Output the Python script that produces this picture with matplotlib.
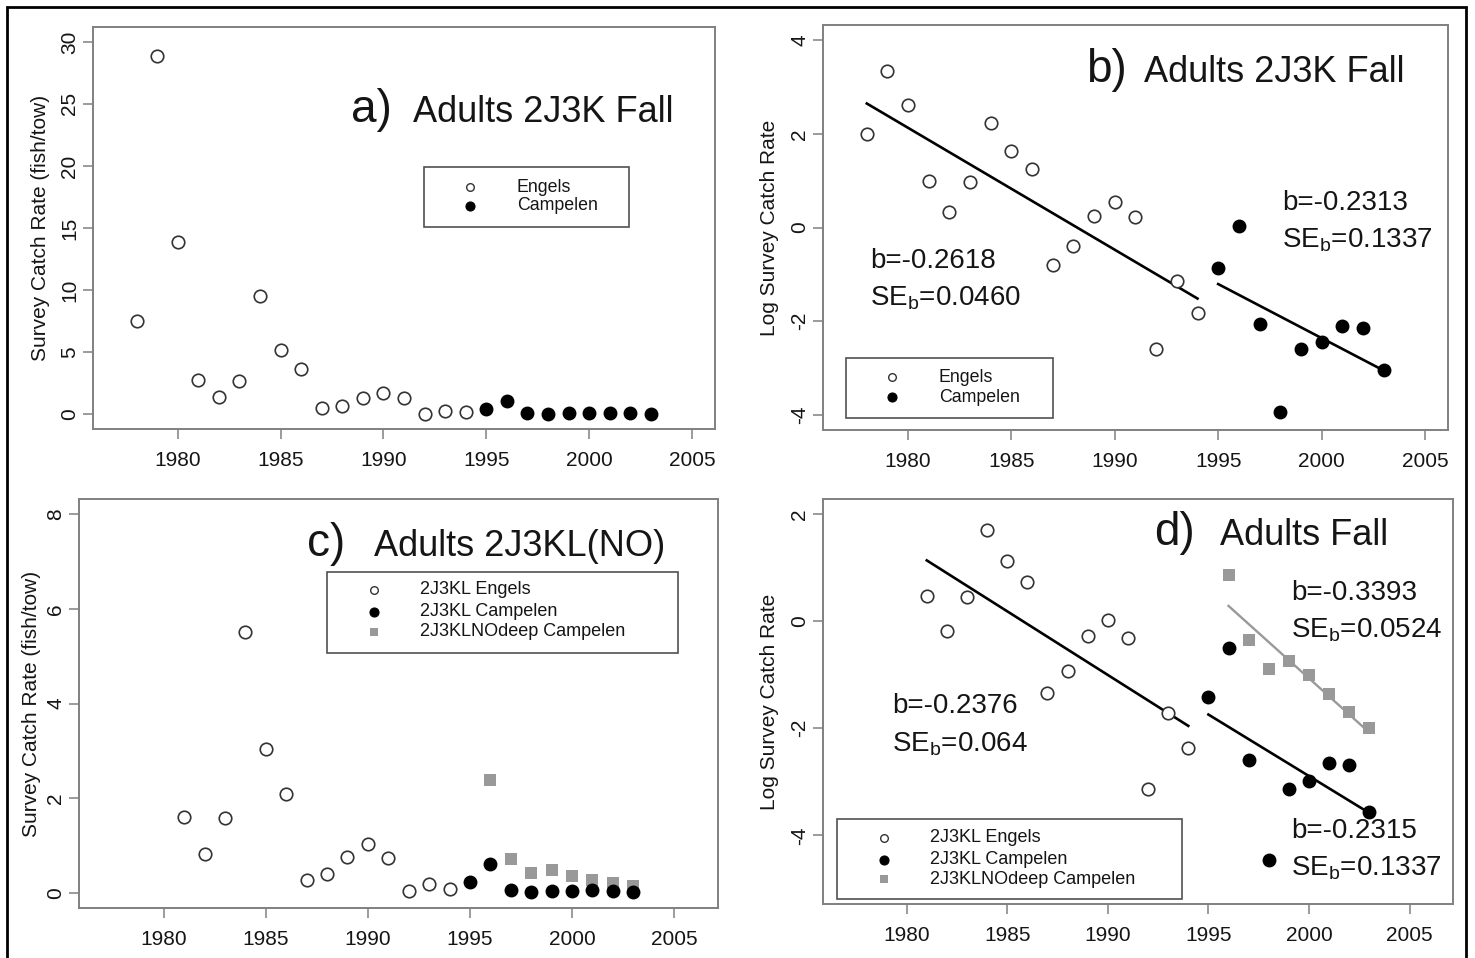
import numpy as np
import matplotlib
matplotlib.use("Agg")
import matplotlib.pyplot as plt
from matplotlib.patches import Rectangle

plt.rcParams["font.family"] = ["Liberation Sans", "DejaVu Sans"]
plt.rcParams["mathtext.fontset"] = "custom"
plt.rcParams["mathtext.rm"] = "Liberation Sans"
plt.rcParams["mathtext.it"] = "Liberation Sans:italic"
plt.rcParams["axes.unicode_minus"] = False

# --- data ---
yrs_engels_ab = [1978, 1979, 1980, 1981, 1982, 1983, 1984, 1985, 1986,
                 1987, 1988, 1989, 1990, 1991, 1992, 1993, 1994]
yrs_engels_cd = [1981, 1982, 1983, 1984, 1985, 1986, 1987, 1988, 1989,
                 1990, 1991, 1992, 1993, 1994]
yrs_campelen = [1995, 1996, 1997, 1998, 1999, 2000, 2001, 2002, 2003]
yrs_deep = [1996, 1997, 1998, 1999, 2000, 2001, 2002, 2003]

# a) catch rate 2J3K fall
engels_a = [7.5, 28.9, 13.9, 2.74, 1.4, 2.7, 9.5, 5.2, 3.6,
            0.46, 0.67, 1.3, 1.72, 1.26, 0.03, 0.27, 0.13]
campelen_a = [0.4, 1.05, 0.1, 0.02, 0.05, 0.08, 0.1, 0.1, 0.04]

# b) log catch rate 2J3K fall
engels_b = [1.99, 3.34, 2.62, 0.99, 0.33, 0.97, 2.23, 1.63, 1.25,
            -0.80, -0.39, 0.25, 0.55, 0.22, -2.60, -1.15, -1.83]
campelen_b = [-0.86, 0.03, -2.06, -3.93, -2.60, -2.45, -2.10, -2.15, -3.03]

# c) catch rate 2J3KL(NO)
engels_c = [1.60, 0.82, 1.58, 5.52, 3.04, 2.09, 0.27, 0.39, 0.75,
            1.04, 0.73, 0.04, 0.18, 0.09]
campelen_c = [0.23, 0.60, 0.07, 0.01, 0.03, 0.04, 0.06, 0.04, 0.01]
deep_c = [2.39, 0.71, 0.41, 0.48, 0.36, 0.27, 0.20, 0.15]

# d) log catch rate fall
engels_d = [0.47, -0.19, 0.46, 1.71, 1.12, 0.73, -1.35, -0.93, -0.27,
            0.02, -0.32, -3.13, -1.71, -2.36]
campelen_d = [-1.41, -0.50, -2.60, -4.45, -3.13, -2.98, -2.64, -2.69, -3.56]
deep_d = [0.87, -0.36, -0.90, -0.74, -1.00, -1.36, -1.70, -1.99]

xticks = [1980, 1985, 1990, 1995, 2000, 2005]

W, H = 1475, 958
fig = plt.figure(figsize=(W / 100, H / 100), dpi=100)
fig.patch.set_facecolor("white")

TXT = "#151515"
GREY = "#999999"


def add_ax(box):
    l, t, r, b = box
    ax = fig.add_axes([l / W, 1 - b / H, (r - l) / W, (b - t) / H])
    ax.box_px = box
    return ax


def frac(ax, x, y):
    # figure pixel -> axes fraction
    l, t, r, b = ax.box_px
    return (x - l) / (r - l), (b - y) / (b - t)


def style(ax, xlim, ylim, yticks, ylabel, label_x):
    ax.set_xlim(*xlim)
    ax.set_ylim(*ylim)
    ax.set_xticks(xticks)
    ax.set_yticks(yticks)
    for sp in ax.spines.values():
        sp.set_color("#808080")
        sp.set_linewidth(1.4)
    ax.tick_params(direction="out", length=7, width=1.1, color="#808080",
                   labelsize=15, labelcolor=TXT)
    ax.tick_params(axis="x", pad=9)
    ax.tick_params(axis="y", pad=3)
    plt.setp(ax.get_yticklabels(), rotation=90, va="center")
    ax.set_ylabel(ylabel, fontsize=15, color=TXT)
    ax.yaxis.set_label_coords(frac(ax, label_x, 0)[0], 0.5)


def title(ax, letter, text, x_letter, x_text, y):
    fx, fy = frac(ax, x_letter, y)
    ax.text(fx, fy, letter, transform=ax.transAxes, fontsize=33,
            va="baseline", ha="left", color=TXT)
    fx, fy = frac(ax, x_text, y)
    ax.text(fx, fy, text, transform=ax.transAxes, fontsize=26,
            va="baseline", ha="left", color=TXT)


def note(ax, s, x, y):
    fx, fy = frac(ax, x, y)
    ax.text(fx, fy, s, transform=ax.transAxes, fontsize=20,
            va="baseline", ha="left", color=TXT, zorder=7)


def r_legend(ax, box, mx, tx, rows, fs):
    l, t, r, b = box
    x0, y1 = frac(ax, l, t)
    x1, y0 = frac(ax, r, b)
    ax.add_patch(Rectangle((x0, y0), x1 - x0, y1 - y0, transform=ax.transAxes,
                           facecolor="white", edgecolor="#505050", lw=1.2,
                           zorder=5, clip_on=False))
    for y, kw, lab in rows:
        fx, fy = frac(ax, mx, y)
        ax.plot([fx], [fy], transform=ax.transAxes, linestyle="none",
                clip_on=False, zorder=6, **kw)
        fx, fy = frac(ax, tx, y)
        ax.text(fx, fy, lab, transform=ax.transAxes, fontsize=fs,
                va="center", ha="left", color=TXT, zorder=6)


def fit_line(ax, x, y, color="black", lw=1.9):
    k, c = np.polyfit(x, y, 1)
    xs = np.array([x[0], x[-1]])
    ax.plot(xs, k * xs + c, color=color, lw=lw, zorder=2)


open_kw = dict(marker="o", ms=9, mfc="white", mec="#333333", mew=1.2,
               linestyle="none", zorder=3)
fill_kw = dict(marker="o", ms=9, mfc="black", mec="black", mew=1,
               linestyle="none", zorder=4)
sq_kw = dict(marker="s", ms=8, mfc=GREY, mec=GREY, mew=0,
             linestyle="none", zorder=3)

leg_open = dict(marker="o", ms=5.5, mfc="white", mec="#333333", mew=1)
leg_fill = dict(marker="o", ms=6.5, mfc="black", mec="black", mew=0.8)
leg_sq = dict(marker="s", ms=5.5, mfc=GREY, mec=GREY, mew=0)

# ---------- a) ----------
ax = add_ax((93, 27, 715, 429))
ax.plot(yrs_engels_ab, engels_a, **open_kw)
ax.plot(yrs_campelen, campelen_a, **fill_kw)
style(ax, (1975.88, 2006.12), (-1.2, 31.2), [0, 5, 10, 15, 20, 25, 30],
      "Survey Catch Rate (fish/tow)", 50)
title(ax, "a)", "Adults 2J3K Fall", 351, 413, 122)
r_legend(ax, (424, 167, 629, 227), 470, 517,
         [(187, leg_open, "Engels"), (206, leg_fill, "Campelen")], 12.8)

# ---------- b) ----------
ax = add_ax((823, 25, 1448, 430))
ax.plot(yrs_engels_ab, engels_b, **open_kw)
ax.plot(yrs_campelen, campelen_b, **fill_kw)
fit_line(ax, yrs_engels_ab, engels_b)
fit_line(ax, yrs_campelen, campelen_b)
style(ax, (1975.88, 2006.12), (-4.32, 4.32), [-4, -2, 0, 2, 4],
      "Log Survey Catch Rate", 779)
title(ax, "b)", "Adults 2J3K Fall", 1086, 1144, 82)
note(ax, "b=-0.2618", 870, 268)
note(ax, r"SE$_{\mathrm{b}}$=0.0460", 870, 305)
note(ax, "b=-0.2313", 1282, 210)
note(ax, r"SE$_{\mathrm{b}}$=0.1337", 1282, 247)
r_legend(ax, (846, 358, 1053, 418), 892, 939,
         [(377, leg_open, "Engels"), (397, leg_fill, "Campelen")], 12.8)

# ---------- c) ----------
ax = add_ax((79, 499, 718, 908))
ax.plot(yrs_engels_cd, engels_c, **open_kw)
ax.plot(yrs_deep, deep_c, **sq_kw)
ax.plot(yrs_campelen, campelen_c, **fill_kw)
style(ax, (1975.84, 2007.16), (-0.32, 8.32), [0, 2, 4, 6, 8],
      "Survey Catch Rate (fish/tow)", 41)
title(ax, "c)", "Adults 2J3KL(NO)", 307, 374, 556)
r_legend(ax, (327, 572, 678, 653), 374, 420,
         [(590, leg_open, "2J3KL Engels"), (612, leg_fill, "2J3KL Campelen"),
          (632, leg_sq, "2J3KLNOdeep Campelen")], 13)

# ---------- d) ----------
ax = add_ax((823, 499, 1453, 904))
ax.plot(yrs_engels_cd, engels_d, **open_kw)
ax.plot(yrs_deep, deep_d, **sq_kw)
ax.plot(yrs_campelen, campelen_d, **fill_kw)
fit_line(ax, yrs_engels_cd, engels_d)
fit_line(ax, yrs_campelen, campelen_d)
fit_line(ax, yrs_deep, deep_d, color=GREY, lw=1.7)
style(ax, (1975.84, 2007.16), (-5.28, 2.28), [-4, -2, 0, 2],
      "Log Survey Catch Rate", 779)
title(ax, "d)", "Adults Fall", 1154, 1220, 545)
note(ax, "b=-0.2376", 892, 713)
note(ax, r"SE$_{\mathrm{b}}$=0.064", 892, 751)
note(ax, "b=-0.3393", 1291, 600)
note(ax, r"SE$_{\mathrm{b}}$=0.0524", 1291, 637)
note(ax, "b=-0.2315", 1291, 838)
note(ax, r"SE$_{\mathrm{b}}$=0.1337", 1291, 875)
r_legend(ax, (837, 819, 1182, 899), 884, 930,
         [(838, leg_open, "2J3KL Engels"), (860, leg_fill, "2J3KL Campelen"),
          (879, leg_sq, "2J3KLNOdeep Campelen")], 13)

# outer frame round the whole figure (bottom edge falls off the page)
fig.add_artist(Rectangle((7 / W, 1 - 975 / H), (1466 - 7) / W, 968 / H,
                         transform=fig.transFigure, fill=False,
                         edgecolor="black", lw=2))

fig.savefig("out.png", dpi=100)
